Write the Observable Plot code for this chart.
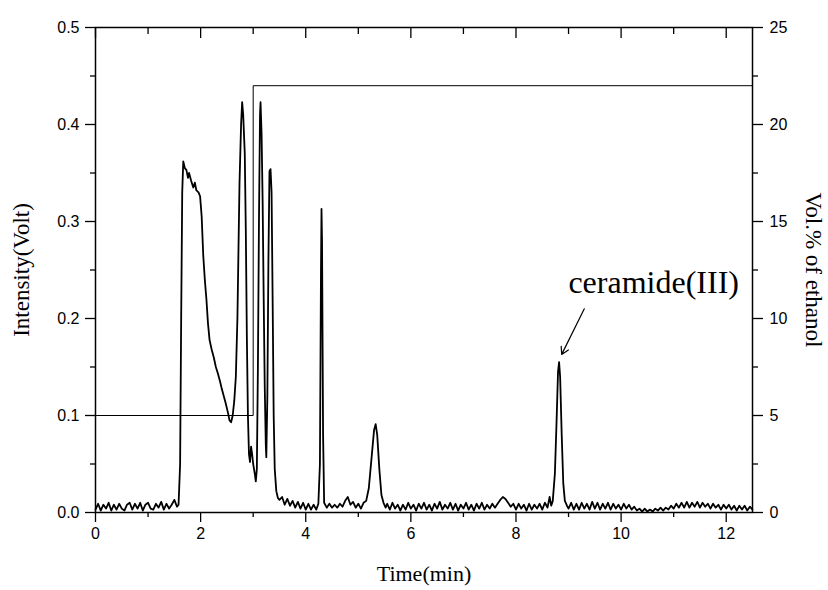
<!DOCTYPE html>
<html>
<head>
<meta charset="utf-8">
<script src="https://cdn.jsdelivr.net/npm/d3@7"></script>
<script src="https://cdn.jsdelivr.net/npm/@observablehq/plot@0.6"></script>
<style>
  body { margin: 0; background: #fff; }
</style>
</head>
<body>
<div id="chart"></div>
<script>
// Chromatogram: time (min) and detector intensity (Volt)
const timeMin = [
  0,0.05,0.1,0.15,0.2,0.25,0.3,0.35,0.4,0.45,0.5,0.55,0.6,0.65,0.7,0.75,0.8,0.85,0.9,0.95,1.0,1.05,1.1,1.15,1.2,1.25,1.3,1.35,1.4,1.45,1.5,1.55,
  1.58,1.61,1.63,1.65,1.67,1.70,1.73,1.76,1.78,1.82,1.86,1.89,1.92,1.96,1.99,2.02,2.05,2.08,2.11,2.14,2.17,2.21,2.25,2.29,2.33,2.37,2.40,2.44,2.48,2.52,2.55,2.58,2.61,2.64,2.67,2.70,2.72,2.74,2.77,2.79,2.81,2.84,2.86,2.88,2.90,2.92,2.94,2.96,2.98,3.00,3.03,3.05,3.07,3.09,3.11,3.13,3.14,3.16,3.18,3.20,3.22,3.24,3.25,3.27,3.29,3.31,3.33,3.35,3.37,3.39,3.41,3.44,3.47,3.50,
  3.55,3.6,3.65,3.7,3.75,3.8,3.85,3.9,3.95,4.0,4.05,4.1,4.15,4.2,4.24,
  4.27,4.29,4.30,4.31,4.33,4.35,
  4.4,4.45,4.5,4.55,4.6,4.65,4.7,4.75,4.8,4.85,4.9,4.95,5.0,5.05,5.1,5.15,5.2,5.25,5.3,5.33,5.36,5.4,5.44,5.48,5.52,
  5.55,5.6,5.65,5.7,5.75,5.8,5.85,5.9,5.95,6.0,6.05,6.1,6.15,6.2,6.25,6.3,6.35,6.4,6.45,6.5,6.55,6.6,6.65,6.7,6.75,6.8,6.85,6.9,6.95,7.0,7.05,7.1,7.15,7.2,7.25,7.3,7.35,7.4,7.45,7.5,7.55,7.6,
  7.65,7.7,7.75,7.8,7.85,7.9,
  7.95,8.0,8.05,8.1,8.15,8.2,8.25,8.3,8.35,8.4,8.45,8.5,8.55,8.6,8.64,8.67,8.7,8.74,8.77,8.8,8.82,8.84,8.87,8.9,8.93,8.97,
  9.0,9.05,9.1,9.15,9.2,9.25,9.3,9.35,9.4,9.45,9.5,9.55,9.6,9.65,9.7,9.75,9.8,9.85,9.9,9.95,10.0,10.05,10.1,10.15,10.2,10.25,10.3,
  10.35,10.4,10.45,10.5,10.55,10.6,10.65,10.7,10.75,10.8,10.85,
  10.9,10.95,11.0,11.05,11.1,11.15,11.2,11.25,11.3,11.35,11.4,11.45,11.5,11.55,11.6,11.65,11.7,11.75,11.8,11.85,11.9,11.95,12.0,12.05,12.1,12.15,12.2,12.25,12.3,12.35,12.4,12.45,12.5
];
const intensity = [
  0.003,0.009,0.002,0.008,0.004,0.010,0.002,0.008,0.003,0.009,0.004,0.002,0.008,0.010,0.003,0.009,0.004,0.010,0.002,0.008,0.010,0.004,0.003,0.009,0.005,0.011,0.003,0.009,0.004,0.008,0.013,0.006,
  0.008,0.05,0.2,0.33,0.362,0.355,0.353,0.345,0.350,0.342,0.335,0.340,0.332,0.330,0.326,0.305,0.265,0.240,0.220,0.195,0.178,0.168,0.160,0.150,0.143,0.135,0.128,0.120,0.112,0.103,0.095,0.093,0.100,0.115,0.140,0.200,0.270,0.340,0.400,0.423,0.410,0.370,0.290,0.180,0.100,0.060,0.052,0.068,0.060,0.050,0.040,0.032,0.045,0.150,0.300,0.410,0.423,0.390,0.320,0.220,0.130,0.070,0.057,0.120,0.260,0.352,0.354,0.330,0.220,0.100,0.045,0.022,0.015,0.013,
  0.016,0.008,0.014,0.007,0.012,0.005,0.011,0.004,0.010,0.003,0.009,0.003,0.008,0.003,0.009,
  0.05,0.25,0.313,0.28,0.08,0.01,
  0.005,0.009,0.005,0.008,0.005,0.009,0.006,0.012,0.016,0.008,0.011,0.005,0.009,0.004,0.010,0.012,0.025,0.055,0.085,0.091,0.080,0.045,0.018,0.010,0.005,
  0.009,0.003,0.010,0.004,0.008,0.002,0.008,0.003,0.010,0.004,0.008,0.002,0.009,0.004,0.010,0.003,0.008,0.002,0.009,0.004,0.011,0.003,0.008,0.004,0.010,0.003,0.009,0.002,0.008,0.004,0.010,0.003,0.008,0.002,0.009,0.004,0.010,0.003,0.008,0.004,0.009,0.005,
  0.009,0.013,0.016,0.014,0.010,0.006,
  0.009,0.003,0.009,0.004,0.008,0.002,0.009,0.003,0.008,0.004,0.009,0.003,0.010,0.005,0.016,0.007,0.012,0.040,0.090,0.145,0.155,0.140,0.080,0.030,0.012,0.007,
  0.004,0.010,0.003,0.009,0.003,0.010,0.004,0.009,0.003,0.011,0.004,0.010,0.003,0.009,0.004,0.010,0.003,0.009,0.004,0.008,0.003,0.009,0.004,0.008,0.003,0.006,0.002,
  0.004,0.001,0.004,0.001,0.003,0.001,0.004,0.002,0.005,0.002,0.005,
  0.003,0.007,0.004,0.009,0.005,0.010,0.005,0.011,0.005,0.010,0.006,0.011,0.005,0.010,0.006,0.009,0.004,0.009,0.005,0.008,0.003,0.008,0.004,0.008,0.003,0.007,0.002,0.007,0.003,0.007,0.002,0.006,0.003
];

// Ethanol gradient (Vol.% of ethanol, right axis)
const gradTime = [0, 3.0, 3.0, 12.5];
const gradVol  = [5, 5, 22, 22];

// Axis ticks
const xMajor = [0, 2, 4, 6, 8, 10, 12];
const xMinor = [1, 3, 5, 7, 9, 11];
const yMajor = [0.0, 0.1, 0.2, 0.3, 0.4, 0.5];
const yMinor = [0.05, 0.15, 0.25, 0.35, 0.45];
const volMajor = [0, 5, 10, 15, 20, 25];
const volMinor = [2.5, 7.5, 12.5, 17.5, 22.5];

// Annotation
const annoLabel = "ceramide(III)";
const annoText = {x: 10.62, y: 0.226};
const annoArrow = {x1: 9.30, y1: 0.210, x2: 8.87, y2: 0.163};

const volToY = v => v * 0.5 / 25;

const chrom = timeMin.map((t, i) => ({t, v: intensity[i]}));
const grad = gradTime.map((t, i) => ({t, y: volToY(gradVol[i])}));

const tickFont = "'Liberation Sans', Arial, sans-serif";
const serif = "'Liberation Serif', 'Times New Roman', serif";

const chart = Plot.plot({
  width: 828,
  height: 590,
  marginLeft: 95,
  marginRight: 76,
  marginTop: 27,
  marginBottom: 78,
  style: {fontFamily: tickFont, fontSize: "16px", color: "#000", background: "#fff"},
  x: {domain: [0, 12.5]},
  y: {domain: [0, 0.5]},
  marks: [
    // bottom axis
    Plot.axisX({anchor: "bottom", ticks: xMajor, tickSize: 10, tickPadding: 5, tickFormat: d => d, label: null, fontSize: 16, strokeWidth: 1.3}),
    Plot.axisX({anchor: "bottom", ticks: xMinor, tickSize: 5, text: null, label: null, strokeWidth: 1.3}),
    // top axis: ticks pointing into the frame
    Plot.axisX({anchor: "top", ticks: xMajor, tickSize: 10, dy: 10, text: null, label: null, strokeWidth: 1.3}),
    Plot.axisX({anchor: "top", ticks: xMinor, tickSize: 6, dy: 6, text: null, label: null, strokeWidth: 1.3}),
    // left axis
    Plot.axisY({anchor: "left", ticks: yMajor, tickSize: 10, tickPadding: 6, tickFormat: d3.format(".1f"), label: null, fontSize: 16, strokeWidth: 1.3}),
    Plot.axisY({anchor: "left", ticks: yMinor, tickSize: 5, text: null, label: null, strokeWidth: 1.3}),
    // right axis (Vol.% of ethanol)
    Plot.axisY({anchor: "right", ticks: volMajor.map(volToY), tickSize: 10, tickPadding: 7,
      tickFormat: (d, i) => String(volMajor[i]), label: null, fontSize: 16, strokeWidth: 1.3}),
    Plot.axisY({anchor: "right", ticks: volMinor.map(volToY), tickSize: 5, text: null, label: null, strokeWidth: 1.3}),
    Plot.frame({stroke: "#000", strokeWidth: 1.5}),
    // gradient step line
    Plot.line(grad, {x: "t", y: "y", stroke: "#000", strokeWidth: 1, curve: "linear"}),
    // chromatogram
    Plot.line(chrom, {x: "t", y: "v", stroke: "#000", strokeWidth: 1.8, strokeLinejoin: "round"}),
    // annotation
    Plot.arrow([annoArrow], {x1: "x1", y1: "y1", x2: "x2", y2: "y2", stroke: "#000", strokeWidth: 1.2, headLength: 10, bend: 0}),
    Plot.text([annoText], {x: "x", y: "y", text: () => annoLabel, fontFamily: serif, fontSize: 32, fill: "#000", textAnchor: "middle", lineAnchor: "bottom"}),
    // axis titles
    Plot.text(["Time(min)"], {frameAnchor: "bottom", dy: 68, text: d => d, fontFamily: serif, fontSize: 22, fill: "#000", textAnchor: "middle"}),
    Plot.text(["Intensity(Volt)"], {frameAnchor: "left", dx: -74, rotate: -90, text: d => d, fontFamily: serif, fontSize: 23, fill: "#000", textAnchor: "middle"}),
    Plot.text(["Vol.% of ethanol"], {frameAnchor: "right", dx: 61, rotate: 90, text: d => d, fontFamily: serif, fontSize: 23, fill: "#000", textAnchor: "middle"})
  ]
});
document.getElementById("chart").appendChild(chart);
</script>
</body>
</html>
